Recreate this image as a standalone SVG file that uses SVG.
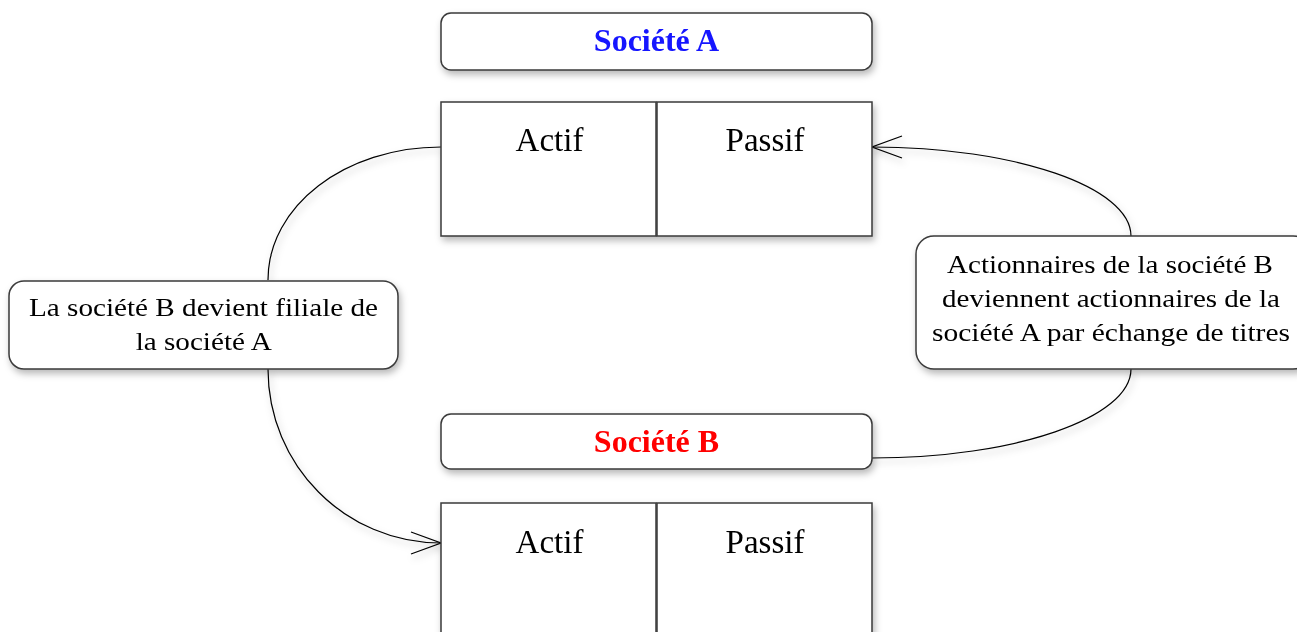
<svg xmlns="http://www.w3.org/2000/svg" width="1297" height="632" viewBox="0 0 1297 632">
  <defs>
    <filter id="shadow" x="-10%" y="-10%" width="130%" height="140%">
      <feDropShadow dx="2" dy="4" stdDeviation="3.5" flood-color="#000" flood-opacity="0.28"/>
    </filter>
    <marker id="open-arrow" markerUnits="userSpaceOnUse" markerWidth="40" markerHeight="30" viewBox="-34 -15 40 30" refX="0" refY="0" orient="auto">
      <path d="M-30,-11 L0,0 L-30,11" fill="none" stroke="#000" stroke-width="1.3"/>
    </marker>
  </defs>
  <style>
    .box { fill: #fff; stroke: #3a3a3a; stroke-width: 1.5; }
    .title { font-family: "Liberation Serif", "Times New Roman", serif; font-weight: bold; font-size: 32px; text-anchor: middle; }
    .col { font-family: "Liberation Serif", "Times New Roman", serif; font-size: 33px; fill: #000; text-anchor: middle; }
    .label { font-family: "Liberation Serif", "Times New Roman", serif; font-size: 26px; fill: #000; text-anchor: middle; }
    .link { fill: none; stroke: #000; stroke-width: 1.2; }
  </style>
  <rect width="1297" height="632" fill="#fff"/>

  <!-- Connectors -->
  <g id="connectors" filter="url(#shadow)">
    <path class="link" d="M441,147 C345,147 268,206 268,280"/>
    <path class="link" d="M268,369 C268,465 345,543 441,543" marker-end="url(#open-arrow)"/>
    <path class="link" d="M1131,236 C1131,187 1015,147 872,147" marker-end="url(#open-arrow)"/>
    <path class="link" d="M1131,369 C1131,418 1015,458 872,458"/>
  </g>

  <!-- Company A -->
  <g id="societe-a" filter="url(#shadow)">
    <rect class="box" x="441" y="13" width="431" height="57" rx="10"/>
    <text class="title" x="656.5" y="51" fill="#1414ff">Société A</text>
  </g>
  <g id="bilan-a" filter="url(#shadow)">
    <rect class="box" x="441" y="102" width="215" height="134"/>
    <rect class="box" x="657" y="102" width="215" height="134"/>
    <text class="col" x="549.5" y="151">Actif</text>
    <text class="col" x="765" y="151">Passif</text>
  </g>

  <!-- Company B -->
  <g id="societe-b" filter="url(#shadow)">
    <rect class="box" x="441" y="414" width="431" height="55" rx="10"/>
    <text class="title" x="656.5" y="452" fill="#ff0000">Société B</text>
  </g>
  <g id="bilan-b" filter="url(#shadow)">
    <rect class="box" x="441" y="503" width="215" height="140"/>
    <rect class="box" x="657" y="503" width="215" height="140"/>
    <text class="col" x="549.5" y="553">Actif</text>
    <text class="col" x="765" y="553">Passif</text>
  </g>

  <!-- Side labels -->
  <g id="label-filiale" filter="url(#shadow)">
    <rect class="box" x="9" y="281" width="389" height="88" rx="15"/>
    <text class="label" x="203.5" y="316" textLength="349" lengthAdjust="spacingAndGlyphs">La société B devient filiale de</text>
    <text class="label" x="203.7" y="350" textLength="136" lengthAdjust="spacingAndGlyphs">la société A</text>
  </g>
  <g id="label-echange" filter="url(#shadow)">
    <rect class="box" x="916" y="236" width="395" height="133" rx="18"/>
    <text class="label" x="1110" y="273" textLength="326" lengthAdjust="spacingAndGlyphs">Actionnaires de la société B</text>
    <text class="label" x="1111" y="307" textLength="338" lengthAdjust="spacingAndGlyphs">deviennent actionnaires de la</text>
    <text class="label" x="1111" y="341" textLength="358" lengthAdjust="spacingAndGlyphs">société A par échange de titres</text>
  </g>
</svg>
